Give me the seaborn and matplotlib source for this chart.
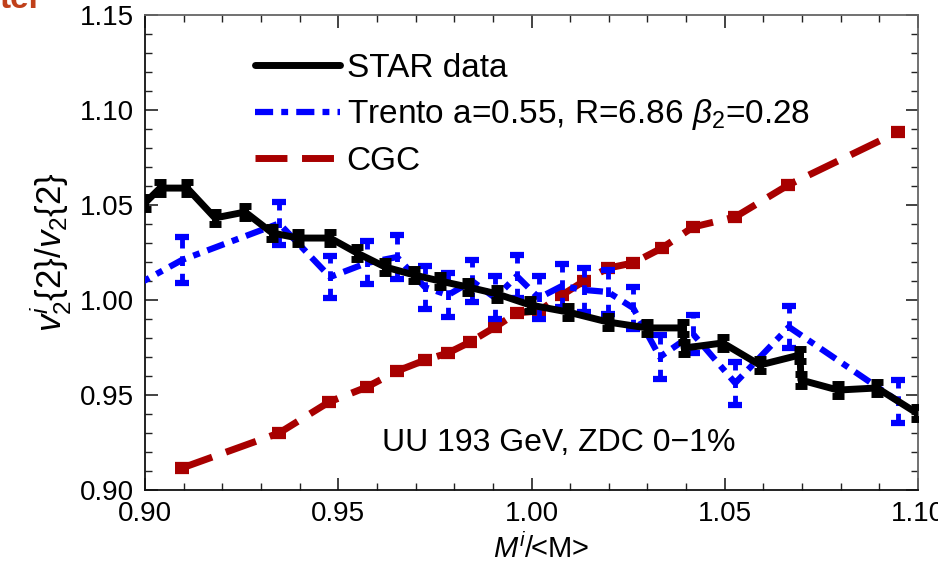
import numpy as np
import pandas as pd
import matplotlib
matplotlib.use("Agg")
import matplotlib.pyplot as plt
from matplotlib.ticker import MultipleLocator, FormatStrFormatter
import seaborn as sns

# ---------------- data ----------------
star_x = [0.900, 0.9039, 0.9109, 0.9181, 0.9259, 0.9329, 0.9396, 0.9479, 0.9549, 0.9621,
          0.9696, 0.9763, 0.9836, 0.9911, 0.9996, 1.0094, 1.0198, 1.0299, 1.0392, 1.0395,
          1.0495, 1.0591, 1.0695, 1.0697, 1.0793, 1.0894, 1.0997]
star_y = [1.0511, 1.0589, 1.0589, 1.0432, 1.0463, 1.0353, 1.0326, 1.0326, 1.0247, 1.0174,
          1.0132, 1.0100, 1.0068, 1.0032, 0.9974, 0.9937, 0.9884, 0.9853, 0.9853, 0.9747,
          0.9774, 0.9658, 0.9711, 0.9579, 0.9526, 0.9537, 0.9405]
star_err = 0.003

trento_x = [0.897, 0.9096, 0.9347, 0.9479, 0.9574, 0.9652, 0.9724, 0.9784, 0.9846, 0.9906,
            0.9962, 1.0019, 1.0079, 1.0136, 1.0198, 1.0263, 1.0332, 1.0418, 1.0527, 1.0666,
            1.0948]
trento_y = [1.0070, 1.0211, 1.0403, 1.0121, 1.0195, 1.0226, 1.0068, 1.0026, 1.0100, 1.0011,
            1.0126, 1.0011, 1.0074, 1.0053, 1.0042, 0.9958, 0.9700, 0.9821, 0.9563, 0.9858,
            0.9468]
trento_err = [0.0115, 0.0121, 0.0113, 0.0108, 0.0113, 0.0118, 0.0113, 0.0116, 0.0110, 0.0113,
              0.0113, 0.0113, 0.0113, 0.0116, 0.0118, 0.0113, 0.0118, 0.0100, 0.0113, 0.0110,
              0.0113]

cgc_x = [0.9096, 0.9347, 0.9476, 0.9574, 0.9652, 0.9725, 0.9784, 0.9841, 0.9906, 0.9962,
         1.0019, 1.0079, 1.0136, 1.0198, 1.0263, 1.0338, 1.0418, 1.0527, 1.0664, 1.0948]
cgc_y = [0.9116, 0.9300, 0.9463, 0.9542, 0.9626, 0.9684, 0.9721, 0.9779, 0.9858, 0.9932,
         0.9942, 1.0026, 1.0100, 1.0168, 1.0195, 1.0274, 1.0384, 1.0437, 1.0605, 1.0884]
cgc_err = 0.0016

labels = ["STAR data", r"Trento a=0.55, R=6.86 $\beta_2$=0.28", "CGC"]
annotation = "UU 193 GeV, ZDC 0\u22121%"
corner_text = "ter"
xticks = [0.90, 0.95, 1.00, 1.05, 1.10]
yticks = [0.90, 0.95, 1.00, 1.05, 1.10, 1.15]

# ---------------- style ----------------
sns.set_theme(style="ticks")
plt.rcParams["font.family"] = ["Liberation Sans", "DejaVu Sans"]
plt.rcParams["mathtext.fontset"] = "custom"
plt.rcParams["mathtext.rm"] = "Liberation Sans"
plt.rcParams["mathtext.it"] = "Liberation Sans:italic"
plt.rcParams["mathtext.bf"] = "Liberation Sans:bold"

BLUE = "#0000ff"
RED = "#a80000"
BLACK = "#000000"

fig = plt.figure(figsize=(9.38, 5.70), dpi=100)
ax = fig.add_axes([145 / 938, 1 - 490 / 570, (918 - 145) / 938, (490 - 15) / 570])

star = pd.DataFrame({"x": star_x, "y": star_y})
trento = pd.DataFrame({"x": trento_x, "y": trento_y})
cgc = pd.DataFrame({"x": cgc_x, "y": cgc_y})

# error bars
ax.errorbar(star["x"], star["y"], yerr=star_err, fmt="none", ecolor=BLACK,
            elinewidth=5, capsize=4.5, capthick=5, zorder=5)
eb = ax.errorbar(trento["x"], trento["y"], yerr=trento_err, fmt="none", ecolor=BLUE,
                 elinewidth=3.5, capsize=5, capthick=4.5, zorder=4)
eb[2][0].set_linestyle((0, (2.0, 1.6)))
ax.errorbar(cgc["x"], cgc["y"], yerr=cgc_err, fmt="none", ecolor=RED,
            elinewidth=5, capsize=5, capthick=4.5, zorder=3)

# lines
sns.lineplot(data=cgc, x="x", y="y", ax=ax, color=RED, lw=5, sort=False,
             estimator=None, linestyle=(0, (4.6, 2.1)), label=labels[2], zorder=3)
sns.lineplot(data=trento, x="x", y="y", ax=ax, color=BLUE, lw=4.5, sort=False,
             estimator=None, linestyle=(0, (2.9, 1.3, 1.1, 1.3)), label=labels[1], zorder=4)
sns.lineplot(data=star, x="x", y="y", ax=ax, color=BLACK, lw=5, sort=False,
             estimator=None, label=labels[0], zorder=5)

ax.set_xlim(0.90, 1.10)
ax.set_ylim(0.90, 1.15)
ax.set_xticks(xticks)
ax.set_yticks(yticks)
ax.xaxis.set_major_formatter(FormatStrFormatter("%.2f"))
ax.yaxis.set_major_formatter(FormatStrFormatter("%.2f"))
ax.xaxis.set_minor_locator(MultipleLocator(0.01))
ax.yaxis.set_minor_locator(MultipleLocator(0.01))
ax.tick_params(which="both", direction="in", top=True, right=True, labelsize=20,
               color="#222222", labelcolor="#000000")
ax.tick_params(which="major", length=9, width=1.2, pad=8)
ax.tick_params(which="minor", length=5, width=1.0)
for s in ["left", "bottom"]:
    ax.spines[s].set_color("#111111")
    ax.spines[s].set_linewidth(1.3)
for s in ["top", "right"]:
    ax.spines[s].set_color("#666666")
    ax.spines[s].set_linewidth(1.3)

ax.set_xlabel(r"$M^i$/<M>", fontsize=21, color="#000000")
ax.xaxis.set_label_coords(0.512, -0.092)
ax.set_ylabel(r"$v_2^i${2}/$v_2${2}", fontsize=25, labelpad=5, color="#000000")

# legend in order STAR, Trento, CGC
handles, labs = ax.get_legend_handles_labels()
order = [labs.index(l) for l in labels]
leg = ax.legend([handles[i] for i in order], [labs[i] for i in order],
                loc="upper left", bbox_to_anchor=(0.125, 0.948), frameon=False,
                fontsize=24, handlelength=2.55, handletextpad=0.2, labelspacing=0.4,
                borderaxespad=0)
for t in leg.get_texts():
    t.set_color("#000000")

ax.text(0.535, 0.099, annotation, transform=ax.transAxes, ha="center", va="center",
        fontsize=23, color="#000000")

fig.text(0.0, 1 - 8 / 570, corner_text, ha="left", va="baseline", fontsize=24,
         fontweight="bold", color="#c0401a")

fig.savefig("out.png", dpi=100)
